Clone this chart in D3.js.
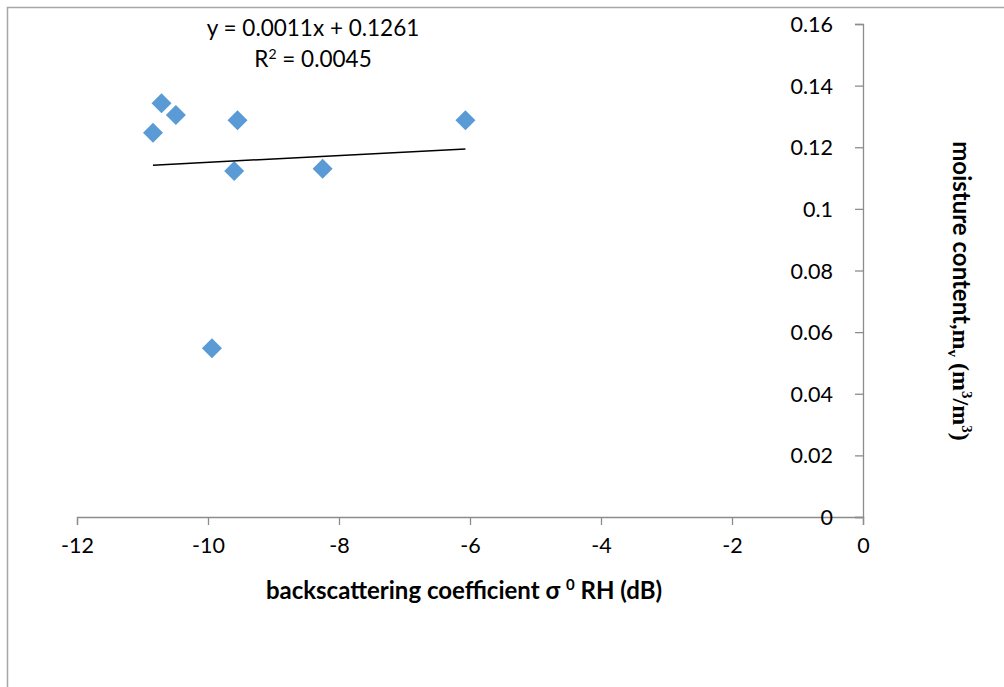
<!DOCTYPE html>
<html><head><meta charset="utf-8">
<script src="https://cdn.jsdelivr.net/npm/d3@7"></script>
<style>html,body{margin:0;padding:0;background:#fff;}svg{display:block;}</style>
</head><body>
<svg id="chart" width="1004" height="687"></svg>
<script>
const xValues = [-10.71, -10.49, -10.84, -9.55, -9.60, -8.25, -6.07, -9.94];
const yValues = [0.1343, 0.1305, 0.1247, 0.1288, 0.1123, 0.1130, 0.1288, 0.0548];
const xTicks = [-12, -10, -8, -6, -4, -2, 0];
const yTicks = [0, 0.02, 0.04, 0.06, 0.08, 0.1, 0.12, 0.14, 0.16];
const trendSlope = 0.0011, trendIntercept = 0.1261;
const eqText = "y = 0.0011x + 0.1261";

const svg = d3.select("#chart");
const font = "Lato, 'Open Sans', sans-serif";
const x = d3.scaleLinear().domain([-12, 0]).range([77, 863]);
const y = d3.scaleLinear().domain([0, 0.16]).range([517, 24]);

// outer frame
svg.append("path").attr("d", "M7.5,687 V7.5 H1004").attr("fill", "none")
  .attr("stroke", "#a6a6a6").attr("stroke-width", 1.5);

const axisColor = "#8c8c8c";
const gx = svg.append("g").attr("transform", `translate(0,${y(0)})`)
  .call(d3.axisBottom(x).tickValues(xTicks).tickSize(8).tickPadding(13).tickFormat(d => String(d)));
const gy = svg.append("g").attr("transform", `translate(${x(0)},0)`)
  .call(d3.axisLeft(y).tickValues(yTicks).tickSize(8).tickPadding(22)
    .tickFormat(d => String(+d.toFixed(2))));
[gx, gy].forEach(g => {
  g.select(".domain").attr("stroke", axisColor).attr("stroke-width", 1.3);
  g.selectAll(".tick line").attr("stroke", axisColor).attr("stroke-width", 1.3);
  g.selectAll(".tick text").attr("fill", "#000").attr("font-family", font).attr("font-size", 21.5);
});
gy.selectAll(".tick text").attr("dy", "0.35em");

// points
const pts = xValues.map((v, i) => [v, yValues[i]]);
svg.append("g").selectAll("path").data(pts).join("path")
  .attr("transform", d => `translate(${x(d[0])},${y(d[1])})`)
  .attr("d", "M0,-10 L10,0 L0,10 L-10,0 Z")
  .attr("fill", "#5b9bd5");

// trendline
const xmin = d3.min(xValues), xmax = d3.max(xValues);
svg.append("line")
  .attr("x1", x(xmin)).attr("y1", y(trendSlope * xmin + trendIntercept))
  .attr("x2", x(xmax)).attr("y2", y(trendSlope * xmax + trendIntercept))
  .attr("stroke", "#000").attr("stroke-width", 1.5);

// equation
svg.append("text").attr("x", 313).attr("y", 36).attr("text-anchor", "middle")
  .attr("font-family", font).attr("font-size", 22.5).text(eqText);
const r2 = svg.append("text").attr("x", 313).attr("y", 67).attr("text-anchor", "middle")
  .attr("font-family", font).attr("font-size", 22.5);
r2.append("tspan").text("R");
r2.append("tspan").attr("dy", -8).attr("font-size", 14).text("2");
r2.append("tspan").attr("dy", 8).text(" = 0.0045");

// x label
const xl = svg.append("text").attr("x", 464).attr("y", 599).attr("text-anchor", "middle")
  .attr("font-family", font).attr("font-size", 24).attr("font-weight", "bold");
xl.append("tspan").text("backscattering coefficient σ ");
xl.append("tspan").attr("dy", -9).attr("font-size", 15).text("0");
xl.append("tspan").attr("dy", 9).text(" RH (dB)");

// y label (rotated clockwise)
const serif = "'Liberation Serif', 'DejaVu Serif', serif";
const yl = svg.append("text").attr("transform", "translate(953,291) rotate(90)")
  .attr("text-anchor", "middle").attr("font-weight", "bold").attr("font-size", 24)
  .attr("font-family", font);
yl.append("tspan").text("moisture content,");
yl.append("tspan").attr("font-family", serif).text("m");
yl.append("tspan").attr("font-family", serif).attr("font-size", 15).attr("dy", 5).text("v");
yl.append("tspan").attr("font-family", serif).attr("dy", -5).text(" (m");
yl.append("tspan").attr("font-family", serif).attr("font-size", 15).attr("dy", -9).text("3");
yl.append("tspan").attr("font-family", serif).attr("dy", 9).text("/m");
yl.append("tspan").attr("font-family", serif).attr("font-size", 15).attr("dy", -9).text("3");
yl.append("tspan").attr("font-family", serif).attr("dy", 9).text(")");
</script>
</body></html>
